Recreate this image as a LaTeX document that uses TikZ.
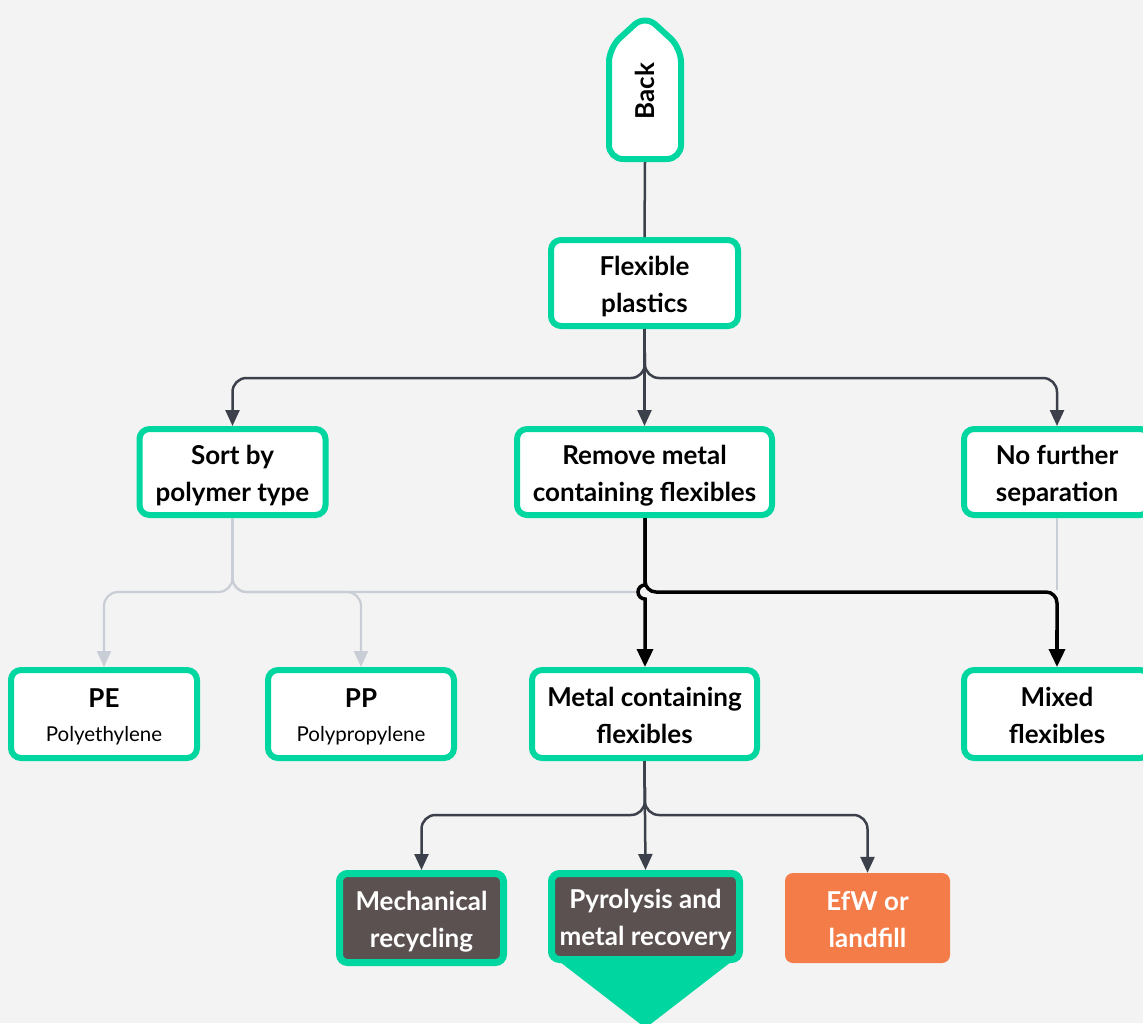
\documentclass[tikz,border=0pt]{standalone}
\usepackage{fontspec}
\usepackage{graphicx}
\setmainfont{Lato}
\usetikzlibrary{arrows.meta}
\definecolor{grn}{HTML}{00D6A0}
\definecolor{dk}{HTML}{3B404B}
\definecolor{lg}{HTML}{C9CED6}
\definecolor{brn}{HTML}{5B5151}
\definecolor{org}{HTML}{F47C48}
\definecolor{bg}{HTML}{F3F3F3}
\newcommand{\topst}{\rule{0pt}{26pt}}
\newcommand{\botst}{\rule[-5pt]{0pt}{5pt}}
\begin{document}
\begin{tikzpicture}[x=1pt,y=-1pt,
  lbl/.style={font=\bfseries\fontsize{26}{37}\selectfont},
  box/.style={draw=grn, line width=6pt, fill=white, rounded corners=10pt,
    minimum width=186pt, minimum height=86pt, align=center, lbl, text=black, inner sep=0pt},
  dbox/.style={draw=grn, line width=7pt, fill=brn, rounded corners=8pt,
    align=center, lbl, text=white, inner sep=0pt},
  obox/.style={fill=org, rounded corners=8pt, align=center, lbl, text=white,
    inner sep=0pt, minimum width=165pt, minimum height=90pt},
  conn/.style={draw=dk, line width=2.5pt, -{Triangle[length=16pt,width=14pt]}, rounded corners=14pt},
  gconn/.style={draw=lg, line width=2.2pt, -{Triangle[length=16pt,width=14pt]}, rounded corners=14pt},
  gline/.style={draw=lg, line width=2.2pt, rounded corners=14pt},
  bconn/.style={draw=black, line width=3.5pt, -{Triangle[length=18pt,width=16pt]}},
]
\clip (0,0) rectangle (1143,1023);
\fill[bg] (0,0) rectangle (1143,1023);

% Back
\draw[draw=grn, fill=white, line width=6pt, rounded corners=14pt]
  (609,159) -- (609,48) -- (645,15) -- (681,48) -- (681,159) -- cycle;
\node[lbl, minimum width=72pt, minimum height=142pt, inner sep=0pt, outer sep=0pt] (back) at (645,91) {\rotatebox{90}{Back}};

% Main boxes
\node[box, minimum width=187pt] (flex) at (644.5,283) {\topst Flexible\\plastics\botst};
\node[box] (sort) at (232.5,472) {\topst Sort by\\polymer type\botst};
\node[box, minimum width=255pt] (rem) at (644.5,472) {\topst Remove metal\\containing flexibles\botst};
\node[box] (nfs) at (1057,472) {\topst No further\\separation\botst};

\node[box, minimum height=88pt] (pe) at (104,714) {\topst PE\\[-3pt]{\mdseries\fontsize{20.5}{24}\selectfont Polyethylene}\botst};
\node[box, minimum height=88pt] (pp) at (361,714) {\topst PP\\[-3pt]{\mdseries\fontsize{20.5}{24}\selectfont Polypropylene}\botst};
\node[box, minimum width=225pt, minimum height=88pt] (mcf) at (644.5,714) {\topst Metal containing\\flexibles\botst};
\node[box, minimum height=88pt] (mix) at (1057,714) {\topst Mixed\\flexibles\botst};

% Bottom boxes
\fill[grn] (551,955) -- (740,955) -- (645.5,1028) -- cycle;
\node[dbox, minimum width=164pt, minimum height=89pt] (mech) at (421.5,918) {\topst Mechanical\\recycling\botst};
\node[dbox, minimum width=188pt, minimum height=86pt] (pyr) at (645.5,916.5) {\topst Pyrolysis and\\metal recovery\botst};
\node[obox] (efw) at (867.5,918) {\topst EfW or\\landfill\botst};

% Connectors
\draw[draw=dk, line width=2.5pt] (back.south) -- (flex.north);
\coordinate (j1) at (645,378);
\draw[conn] (flex.south) -- (j1) -| (sort.north);
\draw[conn] (flex.south) -- (rem.north);
\draw[conn] (flex.south) -- (j1) -| (nfs.north);

\coordinate (j2) at (232.5,592);
\draw[gconn] (sort.south) -- (j2) -| (pe.north);
\draw[gconn] (sort.south) -- (j2) -| (pp.north);
\draw[gline] (sort.south) -- (j2) -- (637,592);
\draw[draw=lg, line width=2.2pt] (nfs.south) -- (1057,590);

\coordinate (hop) at (645,592);
\draw[draw=black, line width=3.5pt, rounded corners=11pt] (rem.south -| hop) -- (hop) -- (1057,592) -- (1057,640);
\draw[bconn] (1057,630) -- (mix.north);
\draw[bconn] (rem.south -| hop) -- (645,585) arc[start angle=90, end angle=270, radius=7pt] -- (mcf.north -| hop);

\coordinate (j3) at (645,815);
\draw[conn] (mcf.south) -- (j3) -| (mech.north);
\draw[conn] (mcf.south) -- (pyr.north);
\draw[conn] (mcf.south) -- (j3) -| (efw.north);
\end{tikzpicture}
\end{document}
